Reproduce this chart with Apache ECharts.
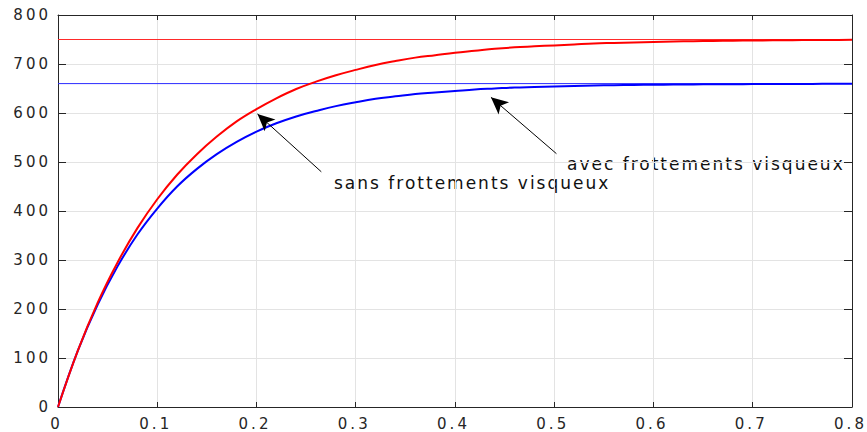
<!DOCTYPE html>
<html>
<head>
<meta charset="utf-8">
<script src="https://cdn.jsdelivr.net/npm/echarts@6/dist/echarts.min.js"></script>
<style>
html, body { margin: 0; padding: 0; background: #fff; }
#chart { width: 867px; height: 432px; }
/* the reference text is drawn very wide: widen it with letter spacing */
#chart text[style*="15px"] { letter-spacing: 3px; }
#chart text[style*="17px"] { letter-spacing: 2px; }
</style>
</head>
<body>
<div id="chart"></div>
<script>
// time (s)
const time = [
  0, 0.02, 0.04, 0.06, 0.08, 0.10, 0.12, 0.14, 0.16, 0.18,
  0.20, 0.22, 0.24, 0.26, 0.28, 0.30, 0.32, 0.34, 0.36, 0.38,
  0.40, 0.42, 0.44, 0.46, 0.48, 0.50, 0.52, 0.54, 0.56, 0.58,
  0.60, 0.62, 0.64, 0.66, 0.68, 0.70, 0.72, 0.74, 0.76, 0.78, 0.80
]
// sans frottements visqueux (rouge)
const sansFrottements = [
  0, 115, 213, 295, 365, 424, 474, 516, 552, 583,
  608, 630, 649, 664, 677, 688, 698, 706, 713, 718,
  723, 727, 731, 734, 736, 738, 740, 742, 743, 744,
  745, 746, 746.5, 747, 747.5, 748, 748.3, 748.6, 748.9, 749.1, 749.3
]
// avec frottements visqueux (bleu)
const avecFrottements = [
  0, 115, 209, 287, 352, 405, 450, 486, 516, 541,
  562, 579, 593, 604, 614, 622, 629, 634, 639, 642,
  645, 648, 650, 652, 653, 654, 655, 656, 656.8, 657.3,
  657.7, 658, 658.3, 658.6, 658.8, 659, 659.1, 659.3, 659.4, 659.5, 659.6
]
// valeurs finales (lignes horizontales)
const finalSans = 750
const finalAvec = 660

const axisColor = '#262626'
const labelFont = 'DejaVu Sans'

const chart = echarts.init(document.getElementById('chart'), null, { renderer: 'svg' })

const baseX = {
  type: 'value',
  min: 0,
  max: 0.8,
  interval: 0.1,
  axisLine: { show: true, onZero: false, lineStyle: { color: axisColor, width: 1 } },
  axisTick: { show: true, inside: true, length: 5, lineStyle: { color: axisColor } }
}
const baseY = {
  type: 'value',
  min: 0,
  max: 800,
  interval: 100,
  axisLine: { show: true, onZero: false, lineStyle: { color: axisColor, width: 1 } },
  axisTick: { show: true, inside: true, length: 8, lineStyle: { color: axisColor } }
}

// ligne horizontale fine sur toute la largeur
const levelSeries = (name, value, color) => ({
  name,
  type: 'line',
  showSymbol: false,
  silent: true,
  lineStyle: { color, width: 1 },
  data: [[0, value], [0.8, value]],
  z: 1
})
const arrow = (from, to) => [
  { coord: from, symbol: 'none' },
  { coord: to, symbol: 'arrow', symbolSize: [12, 17] }
]

const option = {
  animation: false,
  backgroundColor: '#fff',
  grid: { left: 58, right: 15, top: 15, bottom: 25, containLabel: false },
  xAxis: [
    {
      ...baseX,
      position: 'bottom',
      axisLabel: { margin: 9, padding: [0, 3, 0, 0], color: axisColor, fontSize: 15, fontFamily: labelFont },
      splitLine: { show: true, lineStyle: { color: '#e3e3e3', width: 1 } }
    },
    { ...baseX, position: 'top', axisLabel: { show: false }, splitLine: { show: false } }
  ],
  yAxis: [
    {
      ...baseY,
      position: 'left',
      axisLabel: { margin: 7, color: axisColor, fontSize: 15, fontFamily: labelFont },
      splitLine: { show: true, lineStyle: { color: '#e3e3e3', width: 1 } }
    },
    { ...baseY, position: 'right', axisLabel: { show: false }, splitLine: { show: false } }
  ],
  series: [
    levelSeries('finale sans', finalSans, '#ff2a2a'),
    levelSeries('finale avec', finalAvec, '#2a2aff'),
    {
      name: 'sans frottements visqueux',
      type: 'line',
      showSymbol: false,
      smooth: 0.4,
      lineStyle: { color: '#ff0000', width: 2 },
      data: time.map((t, i) => [t, sansFrottements[i]]),
      z: 3,
      markLine: {
        silent: true,
        label: { show: false },
        lineStyle: { color: '#000', width: 1, type: 'solid' },
        itemStyle: { color: '#000' },
        data: [
          arrow([0.2653, 480], [0.2010, 598]),
          arrow([0.5022, 517], [0.4362, 632])
        ]
      }
    },
    {
      name: 'avec frottements visqueux',
      type: 'line',
      showSymbol: false,
      smooth: 0.4,
      lineStyle: { color: '#0000ff', width: 2 },
      data: time.map((t, i) => [t, avecFrottements[i]]),
      z: 2
    }
  ],
  graphic: [
    {
      type: 'text',
      x: 334,
      y: 183,
      style: {
        text: 'sans frottements visqueux',
        fontSize: 17,
        fontFamily: labelFont,
        fill: '#111',
        verticalAlign: 'middle'
      }
    },
    {
      type: 'text',
      x: 567,
      y: 164,
      style: {
        text: 'avec frottements visqueux',
        fontSize: 17,
        fontFamily: labelFont,
        fill: '#111',
        verticalAlign: 'middle'
      }
    }
  ]
}

chart.setOption(option)
window.addEventListener('resize', () => chart.resize())
</script>
</body>
</html>
